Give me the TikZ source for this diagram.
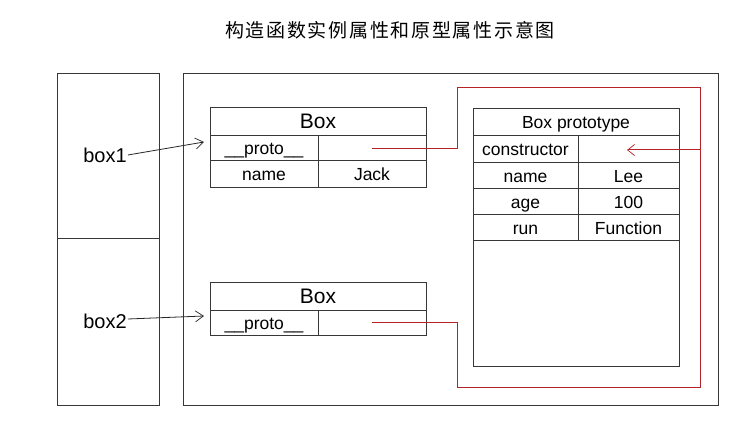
\documentclass[tikz,border=0pt]{standalone}
\usepackage{fontspec}
\setmainfont{Liberation Sans}
\newfontfamily\cjk[LetterSpace=9]{Noto Sans CJK SC}
\usetikzlibrary{arrows.meta}
\definecolor{lnc}{RGB}{55,55,55}
\definecolor{redc}{RGB}{180,35,40}
\tikzset{
  cell/.style={draw=lnc, line width=1pt, inner sep=0pt, text height=14pt, text depth=1pt, font=\fontsize{17.5}{19}\selectfont, anchor=center},
  hdr/.style={cell, text height=15pt, text depth=2pt, font=\fontsize{21}{23}\selectfont},
  frame/.style={draw=lnc, line width=1pt, inner sep=0pt},
  lbl/.style={inner sep=0pt, font=\fontsize{20}{22}\selectfont},
  ptr/.style={draw=black!85, line width=0.8pt, -{Straight Barb[length=8pt,width=11pt,line width=0.7pt]}},
  link/.style={draw=redc, line width=1pt},
  linkarrow/.style={link, -{Straight Barb[length=7pt,width=11pt,line width=0.7pt]}}
}
\begin{document}
\begin{tikzpicture}[x=1pt,y=-1pt]
\useasboundingbox (0,0) rectangle (752,446);
% title
\node[inner sep=0pt, font=\cjk\fontsize{19}{21}\selectfont] (title) at (390,30) {构造函数实例属性和原型属性示意图};
% left stack frame
\node[frame, minimum width=102pt, minimum height=165pt] (s1) at (108,156.5) {};
\node[frame, minimum width=102pt, minimum height=166pt] (s2) at (108,322) {};
\node[lbl] (box1) at (105,155) {box1};
\node[lbl] (box2) at (105,321) {box2};
% heap frame
\node[frame, minimum width=535pt, minimum height=331pt] (heap) at (450.5,239.5) {};
% Box 1
\node[hdr, minimum width=216pt, minimum height=28pt] (b1h) at (318,122) {Box};
\node[cell, minimum width=108pt, minimum height=25pt] (b1p) at (264,148.5) {\_\_proto\_\_};
\node[cell, minimum width=108pt, minimum height=25pt] (b1pv) at (372,148.5) {};
\node[cell, minimum width=108pt, minimum height=27pt] (b1n) at (264,174.5) {name};
\node[cell, minimum width=108pt, minimum height=27pt] (b1nv) at (372,174.5) {Jack};
% Box 2
\node[hdr, minimum width=216pt, minimum height=27pt] (b2h) at (318,296.5) {Box};
\node[cell, minimum width=108pt, minimum height=25pt] (b2p) at (264,322.5) {\_\_proto\_\_};
\node[cell, minimum width=108pt, minimum height=25pt] (b2pv) at (372,322.5) {};
% prototype
\node[frame, minimum width=206pt, minimum height=257pt] (proto) at (576,237.5) {};
\node[cell, minimum width=206pt, minimum height=27pt] (ph) at (576,122.5) {Box prototype};
\node[cell, minimum width=105pt, minimum height=27pt] (pc) at (525.5,149.5) {constructor};
\node[cell, minimum width=101pt, minimum height=27pt] (pcv) at (628.5,149.5) {};
\node[cell, minimum width=105pt, minimum height=26pt] (pn) at (525.5,176) {name};
\node[cell, minimum width=101pt, minimum height=26pt] (pnv) at (628.5,176) {Lee};
\node[cell, minimum width=105pt, minimum height=26pt] (pa) at (525.5,202) {age};
\node[cell, minimum width=101pt, minimum height=26pt] (pav) at (628.5,202) {100};
\node[cell, minimum width=105pt, minimum height=26pt] (pr) at (525.5,228) {run};
\node[cell, minimum width=101pt, minimum height=26pt] (prv) at (628.5,228) {Function};
% pointers from variables
\coordinate (a1) at (204,142);
\coordinate (a2) at (204,316);
\draw[ptr] (box1.east) ++(1,0) -- (a1);
\draw[ptr] (box2.east) ++(1,-2) -- (a2);
% red links
\coordinate (r1) at (457,88);
\coordinate (r2) at (700,88);
\coordinate (r3) at (700,387);
\coordinate (r4) at (457,387);
\coordinate (ct) at (627,150);
\draw[link] (b1pv.center) -- (b1pv.center -| r1) -- (r1) -- (r2) -- (r3) -- (r4) -- (b2pv.center -| r4) -- (b2pv.center);
\draw[linkarrow] (ct -| r2) -- (ct);
\end{tikzpicture}
\end{document}
